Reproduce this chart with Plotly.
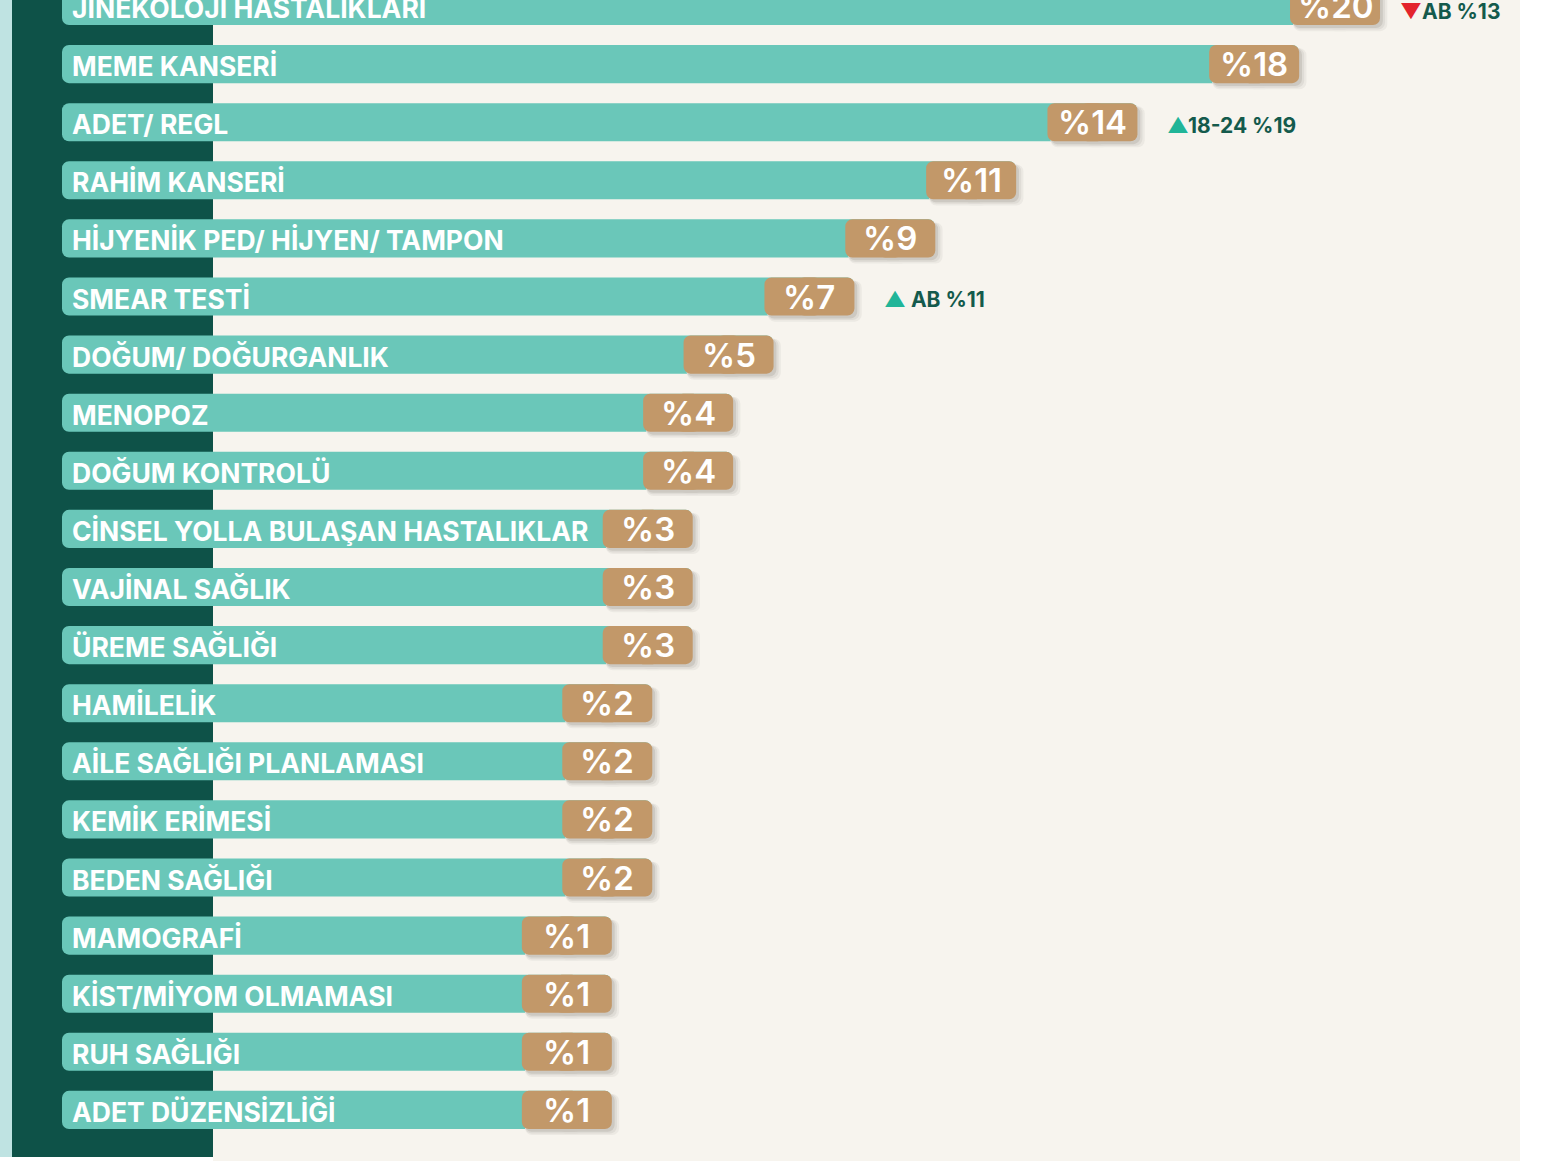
import plotly.graph_objects as go

categories = [
    "JİNEKOLOJİ HASTALIKLARI", "MEME KANSERİ", "ADET/ REGL", "RAHİM KANSERİ",
    "HİJYENİK PED/ HİJYEN/ TAMPON", "SMEAR TESTİ", "DOĞUM/ DOĞURGANLIK", "MENOPOZ",
    "DOĞUM KONTROLÜ", "CİNSEL YOLLA BULAŞAN HASTALIKLAR", "VAJİNAL SAĞLIK", "ÜREME SAĞLIĞI",
    "HAMİLELİK", "AİLE SAĞLIĞI PLANLAMASI", "KEMİK ERİMESİ", "BEDEN SAĞLIĞI",
    "MAMOGRAFİ", "KİST/MİYOM OLMAMASI", "RUH SAĞLIĞI", "ADET DÜZENSİZLİĞİ",
]
values = [20, 18, 14, 11, 9, 7, 5, 4, 4, 3, 3, 3, 2, 2, 2, 2, 1, 1, 1, 1]

# side notes: row, arrow, text
note_rows = [0, 2, 5]
note_arrows = ["▼", "▲", "▲ "]
note_texts = ["AB %13", "18-24 %19", "AB %11"]

TEAL = '#6ac7b9'
TAN = '#c29869'
DARK = '#0e5248'
CREAM = '#f7f4ee'
LIGHT = '#bfe3e2'

START = -12.6      # visual offset where every bar begins
HALF = 1.113       # half width of the value badge (axis units)
BW = 0.655         # bar thickness
OV = 0.3           # overlap of the two badge halves

rows = list(range(len(categories)))

fig = go.Figure()

# teal bars, drawn from the value back to the start so the rounded end is on the left
fig.add_trace(go.Bar(
    y=rows, x=[-(v - START) for v in values], base=values, orientation='h',
    width=BW, marker=dict(color=TEAL, cornerradius=7, line=dict(width=0)),
    hoverinfo='skip'
))


def badge(dx, dy, grow, color):
    # two halves pointing away from the badge centre so both ends are rounded
    for sgn in (1, -1):
        fig.add_trace(go.Bar(
            y=rows, x=[sgn * (HALF + grow + OV) for v in values],
            base=[v - HALF + dx - sgn * OV for v in values], orientation='h',
            width=BW + grow, offset=-(BW + grow) / 2 + dy,
            marker=dict(color=color, cornerradius=7, line=dict(width=0)),
            hoverinfo='skip'
        ))


# soft shadow layers (solid, blended on cream), then the badge itself
badge(0.13, 0.08, 0.05, '#ece9e3')
badge(0.10, 0.065, 0.025, '#dfdcd6')
badge(0.07, 0.05, 0.0, '#cdc9c2')
badge(0.0, 0.0, 0.0, TAN)

# category labels
for i, c in enumerate(categories):
    fig.add_annotation(x=START, y=i, text=c, showarrow=False, xanchor='left',
                       xshift=8, yshift=-2,
                       font=dict(family='Inter', size=26.5, color='white', weight=700))

# value labels
for i, v in enumerate(values):
    fig.add_annotation(x=v - HALF, y=i, text=f"%{v}", showarrow=False,
                       xanchor='center', yshift=0,
                       font=dict(family='Inter', size=33, color='white', weight=600))

# notes
for r, a, t in zip(note_rows, note_arrows, note_texts):
    col = '#e3232c' if a.strip() == '▼' else '#21b598'
    fig.add_annotation(x=values[r], y=r,
                       text=f"<span style='color:{col}'>{a}</span>{t}",
                       showarrow=False, xanchor='left', xshift=28 if r else 18,
                       yshift=-3 if r else -5,
                       font=dict(family='Inter', size=21, color='#145a4c', weight=700))

# background panels
fig.add_shape(type='rect', xref='paper', yref='paper', x0=213 / 1542, x1=1520 / 1542,
              y0=0, y1=1, fillcolor=CREAM, line_width=0, layer='below')
fig.add_shape(type='rect', xref='paper', yref='paper', x0=0, x1=12 / 1542,
              y0=4 / 1161, y1=1, fillcolor=LIGHT, line_width=0, layer='below')
fig.add_shape(type='rect', xref='paper', yref='paper', x0=12 / 1542, x1=213 / 1542,
              y0=4 / 1161, y1=1, fillcolor=DARK, line_width=0, layer='below')

px_per = 40.43
fig.update_layout(
    width=1542, height=1161,
    margin=dict(l=0, r=0, t=0, b=0),
    paper_bgcolor='white', plot_bgcolor='rgba(0,0,0,0)',
    barmode='overlay', showlegend=False,
    xaxis=dict(range=[START - 62 / px_per, START + (1542 - 62) / px_per],
               visible=False, fixedrange=True),
    yaxis=dict(range=[(1161 - 6) / 58.1, -6 / 58.1], visible=False, fixedrange=True),
)

fig.write_html("out.html", config={'displayModeBar': False},
               post_script="document.body.style.margin='0';")
